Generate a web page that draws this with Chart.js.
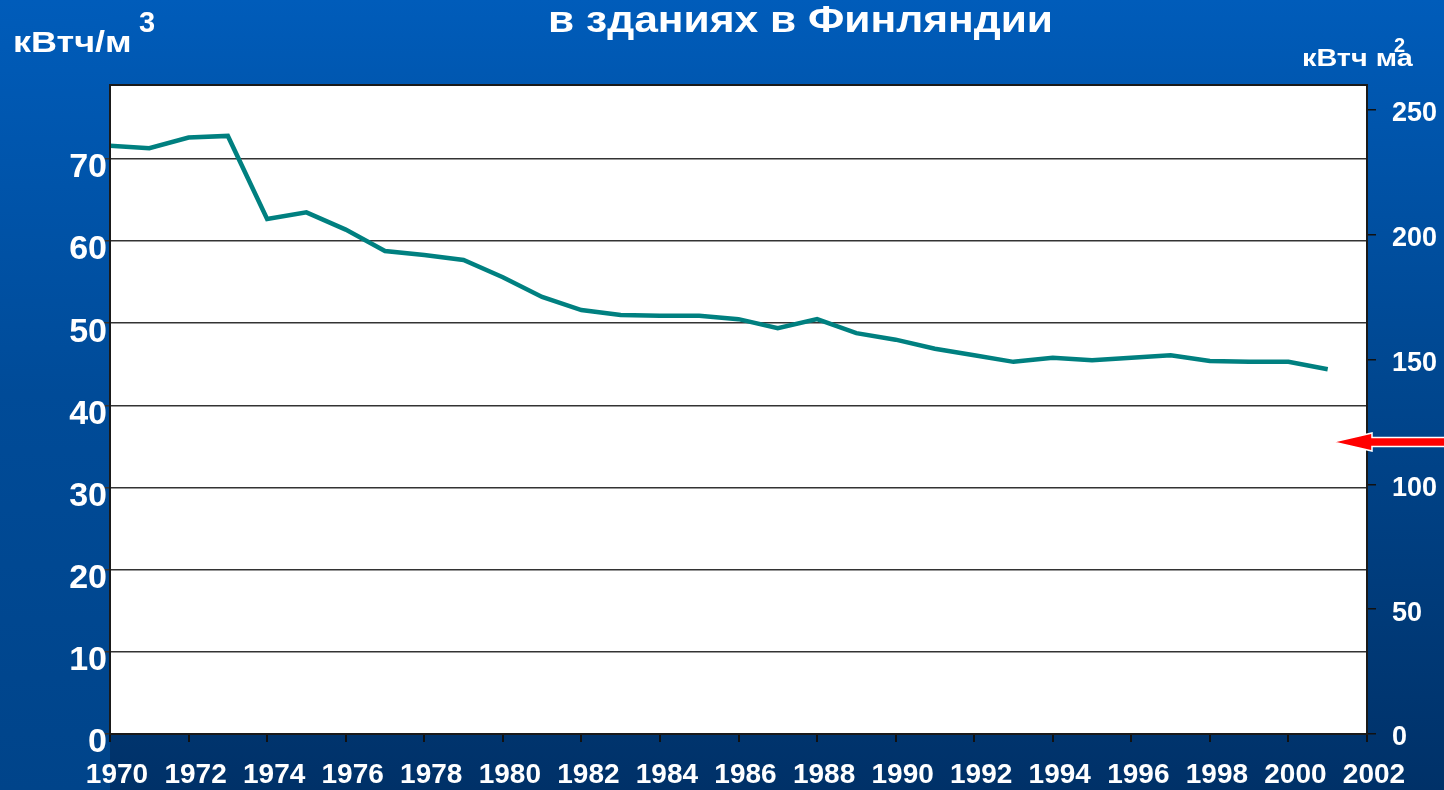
<!DOCTYPE html>
<html>
<head>
<meta charset="utf-8">
<script src="https://cdn.jsdelivr.net/npm/chart.js@4.4.1/dist/chart.umd.min.js"></script>
<style>
html, body { margin: 0; padding: 0; }
body {
  width: 1444px; height: 790px; overflow: hidden; position: relative;
  background: linear-gradient(to bottom, #005cba 0%, #00468e 50%, #003168 100%);
  font-family: "Liberation Sans", Arial, sans-serif; font-weight: bold; color: #fff;
}
#strip {
  position: absolute; left: 0; top: 0; width: 110px; height: 790px;
  background: linear-gradient(to bottom, #005cba 0%, #004b98 50%, #00448a 100%);
}
#wrap { position: absolute; left: 0; top: 0; width: 1444px; height: 790px; }
.txt { position: absolute; white-space: nowrap; line-height: 1; transform-origin: left top; }
#title { left: 548px; top: 1px; font-size: 37px; transform: scaleX(1.15); }
#unitL { left: 13px; top: 27px; font-size: 30px; transform: scaleX(1.2); }
#supL { left: 139px; top: 8px; font-size: 29px; }
#unitR { left: 1302px; top: 46px; font-size: 24px; transform: scaleX(1.2); }
#unitR .a { position: absolute; left: 79px; top: 0; }
#supR { left: 1394px; top: 35px; font-size: 20px; }
</style>
</head>
<body>
<div id="strip"></div>
<div id="wrap"><canvas id="chart" width="1444" height="790"></canvas></div>
<div class="txt" id="title">в зданиях в Финляндии</div>
<div class="txt" id="unitL">кВтч/м</div>
<div class="txt" id="supL">3</div>
<div class="txt" id="unitR">кВтч м<span class="a">а</span></div>
<div class="txt" id="supR">2</div>
<script>
const years = [1970, 1971, 1972, 1973, 1974, 1975, 1976, 1977, 1978, 1979,
  1980, 1981, 1982, 1983, 1984, 1985, 1986, 1987, 1988, 1989,
  1990, 1991, 1992, 1993, 1994, 1995, 1996, 1997, 1998, 1999,
  2000, 2001];
const consumption = [71.6, 71.3, 72.6, 72.8, 62.7, 63.5, 61.4, 58.8, 58.3, 57.7,
  55.6, 53.2, 51.6, 51.0, 50.9, 50.9, 50.5, 49.4, 50.5, 48.8,
  48.0, 46.9, 46.1, 45.3, 45.8, 45.5, 45.8, 46.1, 45.4, 45.3,
  45.3, 44.4];
const leftTicks = [0, 10, 20, 30, 40, 50, 60, 70];
const rightTicks = [0, 50, 100, 150, 200, 250];
const yearTicks = [1970, 1972, 1974, 1976, 1978, 1980, 1982, 1984, 1986, 1988,
  1990, 1992, 1994, 1996, 1998, 2000, 2002];
const arrowLevel = 117; // right axis value the red arrow points at

const tickFont = { family: "'Liberation Sans', Arial, sans-serif", weight: "bold" };

const framePlugin = {
  id: "frame",
  beforeDraw(chart) {
    const a = chart.chartArea, c = chart.ctx;
    c.save();
    c.fillStyle = "#ffffff";
    c.fillRect(a.left, a.top, a.right - a.left, a.bottom - a.top);
    c.restore();
  },
  afterDraw(chart) {
    const a = chart.chartArea, c = chart.ctx;
    c.save();
    c.strokeStyle = "#1a1a1a";
    c.lineWidth = 2;
    c.strokeRect(a.left, a.top, a.right - a.left, a.bottom - a.top);
    // red arrow on the right
    const y = chart.scales.y2.getPixelForValue(arrowLevel);
    const tip = a.right - 34, base = a.right + 5, end = chart.width + 2;
    c.beginPath();
    c.moveTo(tip, y);
    c.lineTo(base, y - 9);
    c.lineTo(base, y - 4.5);
    c.lineTo(end, y - 4.5);
    c.lineTo(end, y + 4.5);
    c.lineTo(base, y + 4.5);
    c.lineTo(base, y + 9);
    c.closePath();
    c.fillStyle = "#ff0000";
    c.fill();
    c.strokeStyle = "#ffffff";
    c.lineWidth = 1.5;
    c.stroke();
    c.restore();
  }
};

new Chart(document.getElementById("chart"), {
  type: "line",
  data: {
    datasets: [{
      data: years.map((yr, i) => ({ x: yr, y: consumption[i] })),
      borderColor: "#008080",
      borderWidth: 4.5,
      pointRadius: 0,
      tension: 0,
      yAxisID: "y"
    }]
  },
  options: {
    responsive: false,
    animation: false,
    layout: { padding: { top: 85, left: 0, right: 0, bottom: 0 } },
    plugins: { legend: { display: false }, tooltip: { enabled: false } },
    scales: {
      x: {
        type: "linear",
        min: 1970, max: 2002,
        afterFit(s) { s.height = 56; },
        afterBuildTicks(s) { s.ticks = yearTicks.map(v => ({ value: v })); },
        border: { color: "#111", width: 2 },
        grid: { drawOnChartArea: false, color: "#111", tickLength: 8, lineWidth: 2 },
        ticks: {
          color: "#fff", font: { ...tickFont, size: 28 }, padding: 16,
          labelOffset: 7, maxRotation: 0, autoSkip: false,
          callback: v => String(v)
        }
      },
      y: {
        position: "left",
        min: 0, max: 79,
        afterFit(s) { s.width = 110; },
        afterBuildTicks(s) { s.ticks = leftTicks.map(v => ({ value: v })); },
        border: { color: "#111", width: 2 },
        grid: { color: "#333", tickLength: 8, lineWidth: 1.5 },
        ticks: {
          color: "#fff", font: { ...tickFont, size: 34 }, padding: -5,
          labelOffset: 9, callback: v => String(v)
        }
      },
      y2: {
        position: "right",
        min: 0, max: 260,
        afterFit(s) { s.width = 77; },
        afterBuildTicks(s) { s.ticks = rightTicks.map(v => ({ value: v })); },
        border: { color: "#111", width: 2 },
        grid: { drawOnChartArea: false, color: "#111", tickLength: 9, lineWidth: 1.5 },
        ticks: {
          color: "#fff", font: { ...tickFont, size: 27 }, padding: 16,
          labelOffset: 4, callback: v => String(v)
        }
      }
    }
  },
  plugins: [framePlugin]
});
</script>
</body>
</html>
